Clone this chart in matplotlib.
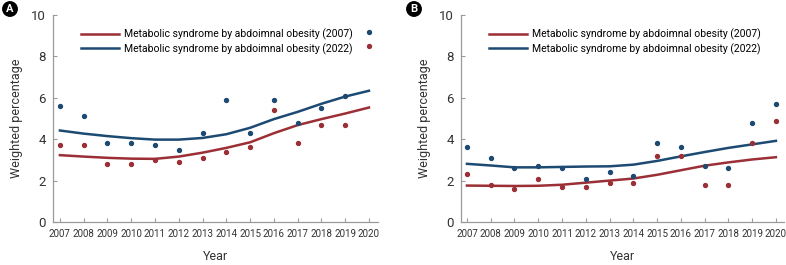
import matplotlib
matplotlib.use('Agg')
import matplotlib.pyplot as plt
from matplotlib import font_manager

# fonts: a narrow face if it exists
names = {f.name for f in font_manager.fontManager.ttflist}
narrow = 'Liberation Sans Narrow' if 'Liberation Sans Narrow' in names else 'Roboto'
plt.rcParams['font.family'] = [narrow, 'DejaVu Sans']

years = list(range(2007, 2021))

# panel A
a_dots_2022 = [5.6, 5.1, 3.8, 3.8, 3.7, 3.5, 4.3, 5.9, 4.3, 5.9, 4.8, 5.5, 6.1, 9.2]
a_dots_2007 = [3.7, 3.7, 2.8, 2.8, 3.0, 2.9, 3.1, 3.4, 3.6, 5.4, 3.8, 4.7, 4.7, 8.5]
a_fit_2022 = [4.42, 4.27, 4.15, 4.05, 3.98, 3.98, 4.06, 4.24, 4.55, 4.97, 5.32, 5.71, 6.06, 6.34]
a_fit_2007 = [3.23, 3.16, 3.10, 3.06, 3.05, 3.16, 3.35, 3.58, 3.85, 4.29, 4.68, 4.97, 5.24, 5.53]

# panel B
b_dots_2022 = [3.6, 3.1, 2.6, 2.7, 2.6, 2.1, 2.4, 2.2, 3.8, 3.6, 2.7, 2.6, 4.8, 5.7]
b_dots_2007 = [2.3, 1.8, 1.6, 2.1, 1.7, 1.7, 1.9, 1.9, 3.2, 3.2, 1.8, 1.8, 3.8, 4.9]
b_fit_2022 = [2.81, 2.73, 2.64, 2.64, 2.66, 2.68, 2.69, 2.77, 2.95, 3.17, 3.38, 3.58, 3.75, 3.92]
b_fit_2007 = [1.76, 1.75, 1.74, 1.75, 1.80, 1.90, 2.00, 2.10, 2.28, 2.50, 2.72, 2.88, 3.02, 3.13]

red = '#9b2f35'
blue = '#1c4a72'
lab_2007 = 'Metabolic syndrome by abdoimnal obesity (2007)'
lab_2022 = 'Metabolic syndrome by abdoimnal obesity (2022)'

fig = plt.figure(figsize=(7.86, 2.65), dpi=100)
axA = fig.add_axes([53/786, 1-222/265, 325/786, 207/265])
axB = fig.add_axes([461/786, 1-222/265, 323/786, 207/265])

panels = [
    (axA, 'A', a_dots_2007, a_dots_2022, a_fit_2007, a_fit_2022, (2006.71, 2020.38), 8/786),
    (axB, 'B', b_dots_2007, b_dots_2022, b_fit_2007, b_fit_2022, (2006.75, 2020.34), 412/786),
]

for ax, letter, d07, d22, f07, f22, xl, cx in panels:
    ax.plot(years, f07, color=red, lw=1.8, label=lab_2007)
    ax.plot(years, f22, color=blue, lw=1.8, label=lab_2022)
    ax.scatter(years, d22, s=8, color=blue, zorder=3)
    ax.scatter(years, d07, s=8, color=red, zorder=3)

    ax.set_xlim(*xl)
    ax.set_ylim(0, 10)
    ax.set_xticks(years)
    ax.set_yticks([0, 2, 4, 6, 8, 10])
    for s in ['top', 'right']:
        ax.spines[s].set_visible(False)
    for s in ['left', 'bottom']:
        ax.spines[s].set_color('#9a9a9a')
        ax.spines[s].set_linewidth(0.9)
    ax.tick_params(direction='in', length=3, color='#9a9a9a',
                   labelcolor='#333333', pad=5)
    ax.tick_params(axis='x', labelsize=7)
    ax.tick_params(axis='y', labelsize=9.5)
    ax.set_xlabel('Year', fontsize=9, color='#333333', labelpad=8)
    ax.set_ylabel('Weighted percentage', fontsize=9, color='#333333', labelpad=6)

    ax.legend(loc='upper left', bbox_to_anchor=(0.065, 0.97), frameon=False,
              fontsize=7.5, handlelength=3.6, handletextpad=0.5,
              labelspacing=0.3, borderaxespad=0.3)

    fig.text(cx + 2/786, 1 - 9/265, letter, ha='center', va='center',
             color='white', fontsize=8, fontweight='bold',
             bbox=dict(boxstyle='circle,pad=0.2', fc='black', ec='black'))

fig.savefig('out.png', dpi=100)
